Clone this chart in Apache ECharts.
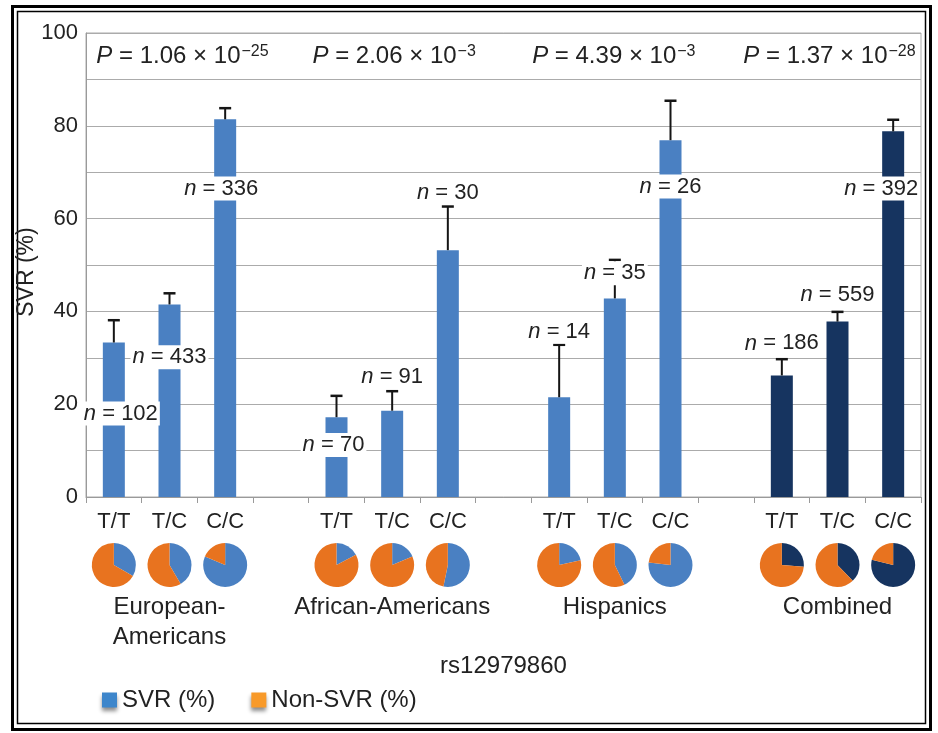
<!DOCTYPE html>
<html>
<head>
<meta charset="utf-8">
<script src="https://cdn.jsdelivr.net/npm/echarts@6/dist/echarts.min.js"></script>
<style>
  html, body { margin: 0; padding: 0; background: #fff; }
  #chart { width: 938px; height: 733px; }
</style>
</head>
<body>
<div id="chart"></div>
<script>
// data
const groups = ["European-\nAmericans", "African-Americans", "Hispanics", "Combined"];
const genotypes = ["T/T", "T/C", "C/C"];
const svr = [33.3, 41.5, 81.4, 17.2, 18.6, 53.2, 21.5, 42.8, 76.9, 26.2, 37.8, 78.8];
const svrUpper = [38.1, 43.9, 83.8, 21.8, 22.8, 62.6, 32.8, 51.1, 85.4, 29.7, 39.9, 81.3];
const sampleN = [102, 433, 336, 70, 91, 30, 14, 35, 26, 186, 559, 392];
const pMantissa = ["1.06", "2.06", "4.39", "1.37"];
const pExponent = ["\u221225", "\u22123", "\u22123", "\u221228"];
const yTicks = [0, 20, 40, 60, 80, 100];

// layout: where the "n =" tags sit (axis units) and small sideways nudges
const nLabelAt = [18, 30.1, 66.5, 11.2, 25.9, 65.6, 35.6, 48.2, 66.9, 33.1, 43.5, 66.5];
const nLabelShift = [7, 0, -4, -3, 0, 0, 0, 0, 0, 0, 0, -12];
const pLabelAt = 95;
const pLabelShift = [13, 2, -1, -8];

const FONT = "Liberation Sans, Arial, Helvetica, sans-serif";
const BLUE = "#4a80c2";
const NAVY = "#163460";
const ORANGE = "#e8731f";
const TEXT = "#222";

// 15 slots: three genotypes per group, one empty slot between groups
const slots = [];
const slotOf = [];
groups.forEach((g, gi) => {
  genotypes.forEach((t) => { slotOf.push(slots.length); slots.push(t); });
  if (gi < groups.length - 1) slots.push("");
});
const groupColor = (i) => (Math.floor(i / 3) === 3 ? NAVY : BLUE);

const barData = slots.map(() => null);
svr.forEach((v, i) => {
  barData[slotOf[i]] = { value: v, itemStyle: { color: groupColor(i) } };
});

const chart = echarts.init(document.getElementById("chart"));

chart.setOption({
  animation: false,
  backgroundColor: "#fff",
  textStyle: { fontFamily: FONT },
  grid: {
    left: 86, right: 17, top: 33, bottom: 236,
    show: true, borderColor: "#ababab", borderWidth: 1
  },
  xAxis: {
    type: "category",
    data: slots,
    axisLine: { lineStyle: { color: "#9a9a9a", width: 1 } },
    axisTick: { show: true, interval: 0, length: 6, lineStyle: { color: "#9a9a9a" } },
    axisLabel: { interval: 0, color: TEXT, fontSize: 22, margin: 14, fontFamily: FONT },
    name: "rs12979860",
    nameLocation: "middle",
    nameGap: 157,
    nameMoveOverlap: false,
    nameTextStyle: { color: TEXT, fontSize: 24, fontFamily: FONT }
  },
  yAxis: {
    type: "value",
    min: 0, max: 100, interval: 10,
    axisLine: { show: true, lineStyle: { color: "#9a9a9a" } },
    axisTick: { show: false },
    splitLine: { lineStyle: { color: "#ababab", width: 1.2 } },
    axisLabel: {
      color: TEXT, fontSize: 22, margin: 8, fontFamily: FONT,
      formatter: (v) => (yTicks.includes(v) ? String(v) : "")
    },
    name: "SVR (%)",
    nameLocation: "middle",
    nameGap: 48,
    nameMoveOverlap: false,
    nameTextStyle: { color: TEXT, fontSize: 23, fontFamily: FONT, padding: [0, 0, 0, -14] }
  },
  series: [
    {
      type: "bar",
      data: barData,
      barWidth: 22,
      z: 2
    },
    {
      type: "custom",
      z: 3,
      data: svr.map((v, i) => [slotOf[i], v, svrUpper[i]]),
      renderItem(params, api) {
        const base = api.coord([api.value(0), api.value(1)]);
        const top = api.coord([api.value(0), api.value(2)]);
        return {
          type: "group",
          children: [
            { type: "line", shape: { x1: base[0], y1: base[1], x2: top[0], y2: top[1] },
              style: { stroke: "#151515", lineWidth: 2 } },
            { type: "line", shape: { x1: top[0] - 6, y1: top[1], x2: top[0] + 6, y2: top[1] },
              style: { stroke: "#151515", lineWidth: 2.5 } }
          ]
        };
      }
    },
    {
      type: "custom",
      z: 4,
      data: sampleN.map((n, i) => [slotOf[i], nLabelAt[i], n, nLabelShift[i]]),
      renderItem(params, api) {
        const p = api.coord([api.value(0), api.value(1)]);
        return {
          type: "text",
          x: p[0] + api.value(3),
          y: p[1],
          style: {
            text: "{i|n} = " + api.value(2),
            fill: TEXT,
            font: "22px " + FONT,
            align: "center",
            verticalAlign: "middle",
            backgroundColor: "#fff",
            padding: [1, 2, 1, 2],
            rich: { i: { fontStyle: "italic", fontSize: 22, fontFamily: FONT, fill: TEXT } }
          }
        };
      }
    },
    {
      type: "custom",
      z: 4,
      data: pMantissa.map((m, gi) => [slotOf[gi * 3 + 1], pLabelAt, gi]),
      renderItem(params, api) {
        const gi = api.value(2);
        const p = api.coord([api.value(0), api.value(1)]);
        return {
          type: "text",
          x: p[0] + pLabelShift[gi],
          y: p[1],
          style: {
            text: "{i|P}{b| = " + pMantissa[gi] + " \u00d7 10}{s|" + pExponent[gi] + "}",
            fill: TEXT,
            align: "center",
            verticalAlign: "middle",
            rich: {
              i: { fontStyle: "italic", fontSize: 24, fontFamily: FONT, fill: TEXT, lineHeight: 26 },
              b: { fontSize: 24, fontFamily: FONT, fill: TEXT, lineHeight: 26 },
              s: { fontSize: 16, fontFamily: FONT, fill: TEXT, verticalAlign: "top", lineHeight: 26, padding: [0, 0, 10, 1] }
            }
          }
        };
      }
    }
  ]
});

// pies, group names, legend and frame placed from the axis scale
const yBase = chart.convertToPixel({ yAxisIndex: 0 }, 0);
const pies = svr.map((v, i) => ({
  type: "pie",
  silent: true,
  radius: 22,
  center: [chart.convertToPixel({ xAxisIndex: 0 }, slotOf[i]), yBase + 68],
  startAngle: 90,
  clockwise: true,
  label: { show: false },
  labelLine: { show: false },
  data: [
    { name: "SVR (%)", value: v, itemStyle: { color: groupColor(i) } },
    { name: "Non-SVR (%)", value: 100 - v, itemStyle: { color: ORANGE } }
  ]
}));

const groupTexts = groups.map((g, gi) => ({
  type: "text",
  x: chart.convertToPixel({ xAxisIndex: 0 }, slotOf[gi * 3 + 1]),
  y: yBase + 95,
  style: {
    text: g, fill: TEXT, font: "24px " + FONT,
    align: "center", verticalAlign: "top", lineHeight: 30
  }
}));

chart.setOption({
  legend: {
    left: 97,
    top: 683,
    icon: "rect",
    itemWidth: 15,
    itemHeight: 15,
    itemGap: 36,
    selectedMode: false,
    textStyle: { color: TEXT, fontSize: 24, fontFamily: FONT },
    data: [
      { name: "SVR (%)", itemStyle: { color: "#3d86cb", shadowBlur: 4, shadowOffsetY: 3, shadowColor: "rgba(0,0,0,0.45)" } },
      { name: "Non-SVR (%)", itemStyle: { color: "#f89a2a", shadowBlur: 4, shadowOffsetY: 3, shadowColor: "rgba(0,0,0,0.45)" } }
    ]
  },
  series: chart.getOption().series.concat(pies),
  graphic: groupTexts.concat([
    { type: "rect", shape: { x: 12.5, y: 6.5, width: 918, height: 723 },
      style: { fill: "none", stroke: "#000", lineWidth: 3 } },
    { type: "rect", shape: { x: 17.5, y: 11.5, width: 908, height: 712 },
      style: { fill: "none", stroke: "#000", lineWidth: 1.5 } }
  ])
});
</script>
</body>
</html>
